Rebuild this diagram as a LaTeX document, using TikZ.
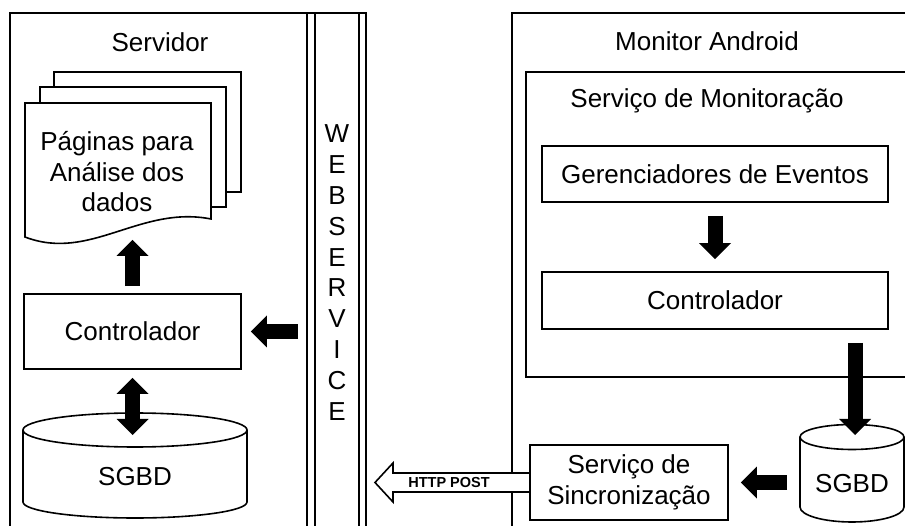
\documentclass[tikz,border=0pt]{standalone}
\usepackage{fontspec}
\setmainfont{Liberation Sans}
\usetikzlibrary{arrows.meta}
\begin{document}
\begin{tikzpicture}[x=1pt,y=-1pt,
  lw/.style={line width=1.6pt},
  txt/.style={font=\fontsize{26}{30.5}\selectfont},
  box/.style={draw, lw, fill=white, rectangle, inner sep=0pt, align=center, txt},
  lbl/.style={inner sep=0pt, align=center, txt},
  blk/.style={line width=15pt, -{Triangle[length=16pt,width=32pt,line width=0pt]}},
  blkb/.style={line width=15pt, {Triangle[length=16pt,width=32pt,line width=0pt]}-{Triangle[length=16pt,width=32pt,line width=0pt]}},
]
\useasboundingbox (0,0) rectangle (905,526);
\begin{scope}
\clip (0,0) rectangle (905,526);
% ---------------- Servidor + Webservice frame
\draw[lw] (10,540) -- (10,13) -- (366,13) -- (366,540);
\draw[lw] (307,13) -- (307,540);
\draw[lw] (315,13) -- (315,540);
\draw[lw] (359,13) -- (359,540);
\node[lbl, anchor=base] (srv) at (160,52) {Servidor};
\node[lbl, font=\fontsize{26}{30.8}\selectfont] (ws) at (337,272.5) {W\\E\\B\\S\\E\\R\\V\\I\\C\\E};
% pages stack
\draw[lw, fill=white] (54,72) rectangle (241,192);
\draw[lw, fill=white] (40,87) rectangle (226,207);
\draw[lw, fill=white] (25,103) -- (211,103) -- (211,219)
  .. controls (140,205) and (90,262) .. (25,237) -- cycle;
\node[lbl] (pages) at (117,172) {Páginas para\\Análise dos\\dados};
\coordinate (pagesB) at (132.5,240);
% controlador
\node[box, minimum width=217pt, minimum height=75pt] (ctrlL) at (132.5,331.5) {Controlador};
% SGBD left
\draw[lw, fill=white] (23,430) -- (23,502)
  arc[start angle=180, end angle=360, x radius=112pt, y radius=16pt] -- (247,430);
\draw[lw, fill=white] (135,430) ellipse[x radius=112pt, y radius=17pt];
\node[lbl] (sgbdL) at (135,477) {SGBD};
\coordinate (sgbdLtop) at (132.5,435);
\coordinate (wsIn) at (298,331.5);
% arrows left
\draw[blk] ([yshift=7pt]ctrlL.north) -- (pagesB);
\draw[blk] (wsIn) -- ([xshift=9pt]ctrlL.east);
\draw[blkb] ([yshift=-8pt]ctrlL.south) -- (sgbdLtop);
% ---------------- Monitor Android
\draw[lw] (512,540) -- (512,13) -- (910,13);
\node[lbl, anchor=base] (mon) at (707,51) {Monitor Android};
\draw[lw] (910,72) -- (526,72) -- (526,377) -- (910,377);
\node[lbl, anchor=base] (smon) at (707,108) {Serviço de Monitoração};
\node[box, minimum width=346pt, minimum height=56pt] (ger) at (715,174) {Gerenciadores de Eventos};
\node[box, minimum width=346pt, minimum height=57pt] (ctrlR) at (715,300.5) {Controlador};
\draw[blk] ([yshift=-13pt]ger.south) -- ([yshift=12pt]ctrlR.north);
% SGBD right
\draw[lw, fill=white] (800,437) -- (800,507)
  arc[start angle=180, end angle=360, x radius=52pt, y radius=15pt] -- (904,437);
\draw[lw, fill=white] (852,437) ellipse[x radius=52pt, y radius=12.5pt];
\node[lbl] (sgbdR) at (852,484) {SGBD};
\coordinate (monOut) at (855,343);
\coordinate (sgbdRtop) at (855,435);
\draw[blk] (monOut) -- (sgbdRtop);
% HTTP POST arrow
\node[box, minimum width=198pt, minimum height=75pt] (sync) at (629,482.5) {Serviço de\\Sincronização};
\draw[lw, fill=white] (sync.west) ++(0,-9.5) -- (393,473) -- (393,463) -- (375,482.5)
  -- (393,502) -- (393,492) -- (530,492);
\draw[lw, fill=white] (530,445) -- (530,520);
\node[inner sep=0pt, font=\bfseries\fontsize{14.5}{16}\selectfont] (http) at (449,483) {HTTP POST};
\coordinate (sgbdRout) at (787,482.5);
\draw[blk] (sgbdRout) -- ([xshift=12pt]sync.east);
\end{scope}
\end{tikzpicture}
\end{document}
